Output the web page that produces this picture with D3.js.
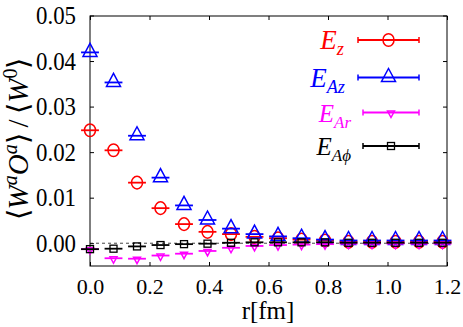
<!DOCTYPE html>
<html>
<head>
<meta charset="UTF-8">
<script src="https://d3js.org/d3.v7.min.js"></script>
<style>
    svg text, svg tspan { font-family: "Liberation Serif", "Times New Roman", serif !important; }
</style>
</head>
<body style="margin:0">
<script>
    // r in fm
    const rValues = [0, 0.079, 0.158, 0.237, 0.316, 0.395, 0.474, 0.553, 0.632, 0.711, 0.79, 0.869, 0.948, 1.027, 1.106, 1.185];
    const ezValues = [0.0248, 0.0204, 0.0133, 0.0077, 0.0042, 0.0025, 0.0020, 0.0014, 0.0011, 0.0008, 0.0006, 0.0003, 0.0003, 0.0003, 0.0003, 0.0003];
    const eAzValues = [0.0419, 0.0353, 0.0236, 0.0144, 0.0083, 0.0051, 0.0032, 0.0020, 0.0015, 0.0011, 0.0008, 0.0006, 0.0006, 0.0006, 0.0006, 0.0006];
    const eArValues = [-0.0013, -0.0033, -0.0034, -0.0027, -0.0023, -0.0017, -0.0010, -0.0006, -0.0004, -0.0003, -0.0002, -0.0001, -0.0001, -0.0001, -0.0001, -0.0001];
    const eAphiValues = [-0.0013, -0.0012, -0.0007, -0.0004, -0.0002, -0.0001, 0.0001, 0.0002, 0.0002, 0.0002, 0.0002, 0.0001, 0.0001, 0.0001, 0.0001, 0.0001];
    const rErr = 0.03;

    const seriesNames = ["Ez", "EAz", "EAr", "EAphi"];
    const seriesSubs = ["z", "Az", "Ar", "A\u03d5"];
    const seriesColors = ["#ff0000", "#0000ff", "#ff00ff", "#000000"];
    const seriesValues = [ezValues, eAzValues, eArValues, eAphiValues];

    const xTicks = [0, 0.2, 0.4, 0.6, 0.8, 1.0, 1.2];
    const yTicks = [0, 0.01, 0.02, 0.03, 0.04, 0.05];

    const serif = "Liberation Serif, Times New Roman, serif";

    const W = 463, H = 327;
    const margin = { top: 16, right: 16, bottom: 61, left: 90 };
    const width = W - margin.left - margin.right,
          height = H - margin.top - margin.bottom;

    const svg = d3.select("body").append("svg")
        .attr("width", W).attr("height", H)
        .attr("font-family", serif);

    const x = d3.scaleLinear().domain([0, 1.2]).range([margin.left, margin.left + width]);
    const y = d3.scaleLinear().domain([-0.005, 0.05]).range([margin.top + height, margin.top - 0.5]);

    // zero line
    svg.append("line")
        .attr("x1", x(0)).attr("x2", x(1.2))
        .attr("y1", y(0)).attr("y2", y(0))
        .attr("stroke", "#444").attr("stroke-width", 1)
        .attr("stroke-dasharray", "3,3");

    // axes, ticks pointing inward
    const left = svg.append("g").attr("transform", `translate(${margin.left},0)`)
        .call(d3.axisLeft(y).tickValues(yTicks).tickSize(-4).tickPadding(14).tickFormat(d3.format(".2f")));
    left.attr("font-family", serif);
    left.selectAll("text")
        .attr("font-size", 25).attr("fill", "#000")
        .attr("textLength", 40).attr("lengthAdjust", "spacingAndGlyphs");

    svg.append("g").attr("transform", `translate(${margin.left + width},0)`)
        .call(d3.axisRight(y).tickValues(yTicks).tickSize(-4).tickFormat(""));

    const bottom = svg.append("g").attr("transform", `translate(0,${margin.top + height})`)
        .call(d3.axisBottom(x).tickValues(xTicks).tickSize(-4).tickPadding(12).tickFormat(d3.format(".1f")));
    bottom.attr("font-family", serif);
    bottom.selectAll("text").attr("font-size", 22).attr("fill", "#000");

    svg.append("g").attr("transform", `translate(0,${margin.top})`)
        .call(d3.axisTop(x).tickValues(xTicks).tickSize(-4).tickFormat(""));

    svg.selectAll(".domain").remove();
    svg.selectAll(".tick line").attr("stroke", "#000");

    svg.append("rect")
        .attr("x", margin.left).attr("y", margin.top)
        .attr("width", width).attr("height", height)
        .attr("fill", "none").attr("stroke", "#000").attr("stroke-width", 1);

    // marker shapes
    function drawMarker(g, kind, color) {
        if (kind === "Ez") {
            g.append("ellipse").attr("rx", 5.5).attr("ry", 6.3)
                .attr("fill", "none").attr("stroke", color).attr("stroke-width", 1.5);
        } else if (kind === "EAz") {
            g.append("path").attr("d", "M0,-9 L7,4 L-7,4 Z")
                .attr("fill", "none").attr("stroke", color).attr("stroke-width", 1.5);
        } else if (kind === "EAr") {
            g.append("path").attr("d", "M-3.5,-1.5 L3.5,-1.5 L0,5 Z")
                .attr("fill", "none").attr("stroke", color).attr("stroke-width", 1.5);
        } else {
            g.append("rect").attr("x", -3.5).attr("y", -3.5).attr("width", 7).attr("height", 7)
                .attr("fill", "none").attr("stroke", color).attr("stroke-width", 1.3);
        }
    }

    // data
    seriesNames.forEach((name, si) => {
        const color = seriesColors[si];
        const pts = rValues.map((r, i) => ({ r: r, v: seriesValues[si][i] }));
        const g = svg.append("g");
        g.selectAll("line.err").data(pts).enter().append("line")
            .attr("x1", d => x(d.r - rErr)).attr("x2", d => x(d.r + rErr))
            .attr("y1", d => y(d.v)).attr("y2", d => y(d.v))
            .attr("stroke", color).attr("stroke-width", 1.8);
        g.selectAll("g.pt").data(pts).enter().append("g")
            .attr("transform", d => `translate(${x(d.r)},${y(d.v)})`)
            .each(function () { drawMarker(d3.select(this), name, color); });
    });

    // legend
    const legendY = [40, 77.5, 112.5, 146];
    const legendX1 = [358, 358, 363, 363];
    const legendTextX = [344, 345, 351, 351];
    seriesNames.forEach((name, si) => {
        const color = seriesColors[si];
        const ly = legendY[si];
        const lg = svg.append("g");
        lg.append("line").attr("x1", legendX1[si]).attr("x2", 419).attr("y1", ly).attr("y2", ly)
            .attr("stroke", color).attr("stroke-width", 1.8);
        [legendX1[si], 419].forEach(cx => {
            lg.append("line").attr("x1", cx).attr("x2", cx).attr("y1", ly - 3).attr("y2", ly + 3)
                .attr("stroke", color).attr("stroke-width", 1.5);
        });
        const mx = (legendX1[si] + 419) / 2;
        const m = lg.append("g").attr("transform", `translate(${mx},${ly})`);
        drawMarker(m, name, color);
        const big = si < 2 ? 27 : 25;
        const t = lg.append("text").attr("x", legendTextX[si]).attr("y", ly + 9)
            .attr("text-anchor", "end").attr("fill", color).attr("font-style", "italic");
        t.append("tspan").attr("font-size", big).text("E");
        t.append("tspan").attr("font-size", big * 0.68).attr("dy", 6).text(seriesSubs[si]);
    });

    // axis titles
    svg.append("text").attr("x", 268).attr("y", 319)
        .attr("text-anchor", "middle").attr("font-size", 25).text("r[fm]");

    const yt = svg.append("text")
        .attr("transform", "translate(28,139) rotate(-90)")
        .attr("text-anchor", "middle").attr("font-size", 29);
    yt.append("tspan").text("\u27e8");
    yt.append("tspan").attr("font-style", "italic").text("W");
    yt.append("tspan").attr("font-style", "italic").attr("font-size", 20).attr("dy", -11).text("a");
    yt.append("tspan").attr("font-style", "italic").attr("dy", 11).text("O");
    yt.append("tspan").attr("font-style", "italic").attr("font-size", 20).attr("dy", -11).text("a");
    yt.append("tspan").attr("dy", 11).text("\u27e9\u2009/\u2009\u27e8");
    yt.append("tspan").attr("font-style", "italic").text("W");
    yt.append("tspan").attr("font-size", 20).attr("dy", -11).text("0");
    yt.append("tspan").attr("dy", 11).text("\u27e9");
</script>
</body>
</html>
